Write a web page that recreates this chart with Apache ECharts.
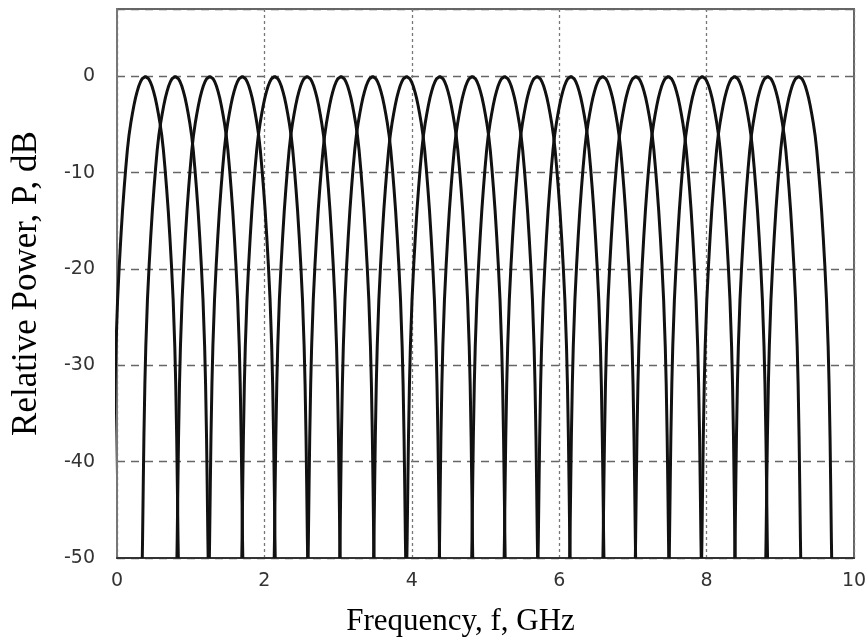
<!DOCTYPE html>
<html>
<head>
<meta charset="utf-8">
<script src="https://cdn.jsdelivr.net/npm/echarts@6/dist/echarts.min.js"></script>
<style>
html,body{margin:0;padding:0;background:#fff;}
#chart{width:868px;height:639px;}
</style>
</head>
<body>
<div id="chart"></div>
<script>
// Peak (centre) frequencies of the 21 lobes, GHz
const peakFreqs = [0.385, 0.79, 1.26, 1.70, 2.14, 2.58, 3.04, 3.47, 3.93, 4.38, 4.82,
                   5.26, 5.70, 6.16, 6.59, 7.04, 7.48, 7.94, 8.38, 8.83, 9.25];
// One lobe's profile (identical for every lobe): distance from peak, GHz, and level, dB
const lobeOffsetGHz = [0, 0.022, 0.044, 0.066, 0.089, 0.111, 0.133, 0.155, 0.177, 0.199, 0.222,
                       0.244, 0.266, 0.288, 0.310, 0.332, 0.354, 0.377, 0.399, 0.412, 0.425,
                       0.434, 0.443, 0.447];
const lobeLevelDb = [0, -0.05, -0.25, -0.55, -1.0, -1.55, -2.2, -3.0, -3.9, -4.9, -6.1,
                     -7.6, -9.5, -11.6, -13.9, -16.6, -19.6, -23.2, -28.0, -32.0, -37.5,
                     -42.5, -48.0, -50.0];
const xTicks = [0, 2, 4, 6, 8, 10];
const yTicks = [-50, -40, -30, -20, -10, 0];

function lobeData(fc) {
  const pts = [];
  for (let i = lobeOffsetGHz.length - 1; i > 0; i--) pts.push([fc - lobeOffsetGHz[i], lobeLevelDb[i]]);
  for (let i = 0; i < lobeOffsetGHz.length; i++) pts.push([fc + lobeOffsetGHz[i], lobeLevelDb[i]]);
  return pts;
}

const series = peakFreqs.map(fc => ({
  type: 'line',
  data: lobeData(fc),
  showSymbol: false,
  symbol: 'none',
  clip: true,
  lineStyle: {color: '#111', width: 3},
  silent: true,
  animation: false
}));

const chart = echarts.init(document.getElementById('chart'), null, {renderer: 'canvas'});
chart.setOption({
  backgroundColor: '#fff',
  animation: false,
  grid: {left: 117, right: 14, top: 9, bottom: 81, containLabel: false, outerBoundsMode: 'none',
         show: true, borderColor: '#666', borderWidth: 2, backgroundColor: 'transparent'},
  xAxis: {
    type: 'value', min: 0, max: 10, interval: 2,
    name: 'Frequency, f, GHz', nameLocation: 'middle', nameGap: 48,
    nameTextStyle: {fontFamily: 'Liberation Serif', fontSize: 31, color: '#000', padding: [0, 50, 0, 0]},
    axisLine: {show: true, onZero: false, lineStyle: {color: '#333', width: 2}},
    axisTick: {show: false},
    axisLabel: {fontFamily: 'DejaVu Sans', fontSize: 19, color: '#333', margin: 14,
      formatter: v => xTicks.indexOf(v) >= 0 ? String(v) : ''},
    splitLine: {show: true, lineStyle: {color: '#777', width: 1.3, type: [3, 3]}}
  },
  yAxis: {
    type: 'value', min: -50, max: 7, interval: 10,
    name: 'Relative Power, P, dB', nameLocation: 'middle', nameGap: 73,
    nameTextStyle: {fontFamily: 'Liberation Serif', fontSize: 35, color: '#000'},
    axisLine: {show: true, onZero: false, lineStyle: {color: '#777', width: 2}},
    axisTick: {show: false},
    axisLabel: {fontFamily: 'DejaVu Sans', fontSize: 19, color: '#333', margin: 22,
      formatter: v => yTicks.indexOf(v) >= 0 ? String(v) : ''},
    splitLine: {show: true, lineStyle: {color: '#666', width: 1.3, type: [8, 6]}}
  },
  series: series
});
</script>
</body>
</html>
